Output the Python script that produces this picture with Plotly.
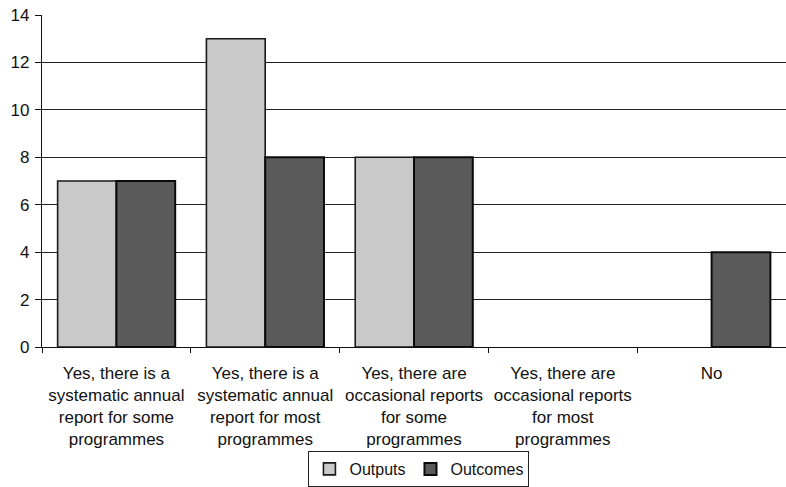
import plotly.graph_objects as go

categories = [
    "Yes, there is a<br>systematic annual<br>report for some<br>programmes",
    "Yes, there is a<br>systematic annual<br>report for most<br>programmes",
    "Yes, there are<br>occasional reports<br>for some<br>programmes",
    "Yes, there are<br>occasional reports<br>for most<br>programmes",
    "No",
]
outputs = [7, 13, 8, 0, 0]
outcomes = [7, 8, 8, 0, 4]
y_ticks = [0, 2, 4, 6, 8, 10, 12, 14]

font = dict(family="Liberation Sans, Arial, sans-serif", size=17, color="#111111")


def outline(values, w):
    # no outline on empty bars so nothing is drawn along the baseline
    return [w if v > 0 else 0 for v in values]


fig = go.Figure()
fig.add_trace(go.Bar(
    x=categories, y=outputs, name="Outputs",
    marker=dict(color="#c9c9c9", line=dict(color="#1a1a1a", width=outline(outputs, 1.6))),
))
fig.add_trace(go.Bar(
    x=categories, y=outcomes, name="Outcomes",
    marker=dict(color="#5a5a5a", line=dict(color="#0a0a0a", width=outline(outcomes, 2))),
))

fig.update_layout(
    width=786, height=487,
    margin=dict(l=42, r=0, t=15, b=140),
    paper_bgcolor="white", plot_bgcolor="white",
    barmode="group", bargap=0.21, bargroupgap=0,
    font=font,
    showlegend=True,
    legend=dict(
        orientation="h", xref="container", yref="container",
        x=0.533, xanchor="center", y=0.0, yanchor="bottom",
        bordercolor="#222222", borderwidth=1, bgcolor="white",
        font=dict(size=16), itemwidth=30, tracegroupgap=0,
    ),
)
fig.update_xaxes(
    showline=True, linecolor="#111111", linewidth=1.2,
    ticks="outside", tickson="boundaries", ticklen=5, tickcolor="#111111",
    showgrid=False, tickfont=font, ticklabelstandoff=10,
)
fig.update_yaxes(
    range=[0, 14], tickvals=y_ticks,
    showline=True, linecolor="#111111", linewidth=1.2,
    ticks="outside", ticklen=6, tickcolor="#111111",
    showgrid=True, gridcolor="#222222", gridwidth=1.3,
    zeroline=False, tickfont=font, ticklabelstandoff=2,
)

fig.write_html("out.html")
